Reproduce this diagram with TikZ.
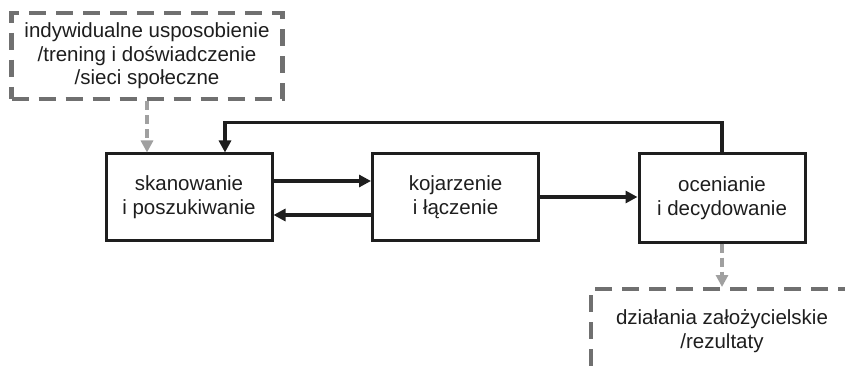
\documentclass[tikz,border=0pt]{standalone}
\usepackage{fontspec}
\setmainfont{Liberation Sans}
\usetikzlibrary{arrows.meta}
\definecolor{ink}{HTML}{1E1E1E}
\definecolor{dashgray}{HTML}{707070}
\definecolor{arrgray}{HTML}{A0A0A0}
\begin{document}
\begin{tikzpicture}[x=1pt,y=-1pt,
  every node/.style={font=\fontsize{20.5}{23.5}\selectfont, text=ink, align=center, inner sep=0pt},
  procbox/.style={draw=ink, line width=3pt, minimum width=166pt, minimum height=86pt},
  framebox/.style={draw=dashgray, line width=4.4pt, dash pattern=on 17pt off 10pt},
  flow/.style={draw=ink, line width=3.6pt, -{Triangle[length=12pt,width=12pt]}},
  influence/.style={draw=arrgray, line width=3.4pt, dash pattern=on 9pt off 5pt,
    -{Triangle[length=12pt,width=12pt]}},
]
\useasboundingbox (0,0) rectangle (845,374);
\clip (0,0) rectangle (845,374);
\fill[white] (0,0) rectangle (845,374);

% input factors
\node[framebox, minimum width=271pt, minimum height=86pt] (inp) at (147,56)
  {indywidualne usposobienie\\/trening i doświadczenie\\/sieci społeczne};

% the three process steps
\node[procbox] (b1) at (189,197) {skanowanie\\i poszukiwanie};
\node[procbox] (b2) at (455.5,197) {kojarzenie\\i łączenie};
\node[procbox, minimum height=88pt] (b3) at (722,198) {ocenianie\\i decydowanie};

% outcomes frame, running off the page edge
\node[framebox, minimum width=266pt, minimum height=110pt, anchor=north west] (out) at (589,287) {};
\node (outtxt) at (722,331) {działania założycielskie\\/rezultaty};

% connectors
\draw[influence] (inp.south) -- ([xshift=-42pt]b1.north);
\draw[flow] ([yshift=16pt]b1.east) -- ([yshift=16pt]b2.west);
\draw[flow] ([yshift=-18pt]b2.west) -- ([yshift=-18pt]b1.east);
\draw[flow] (b2.east) -- (b2.east -| b3.west);
\draw[flow] (b3.north) -- ++(0,-30) -| ([xshift=36pt]b1.north);
\draw[influence] (b3.south) -- (out.north -| b3.south);
\end{tikzpicture}
\end{document}
